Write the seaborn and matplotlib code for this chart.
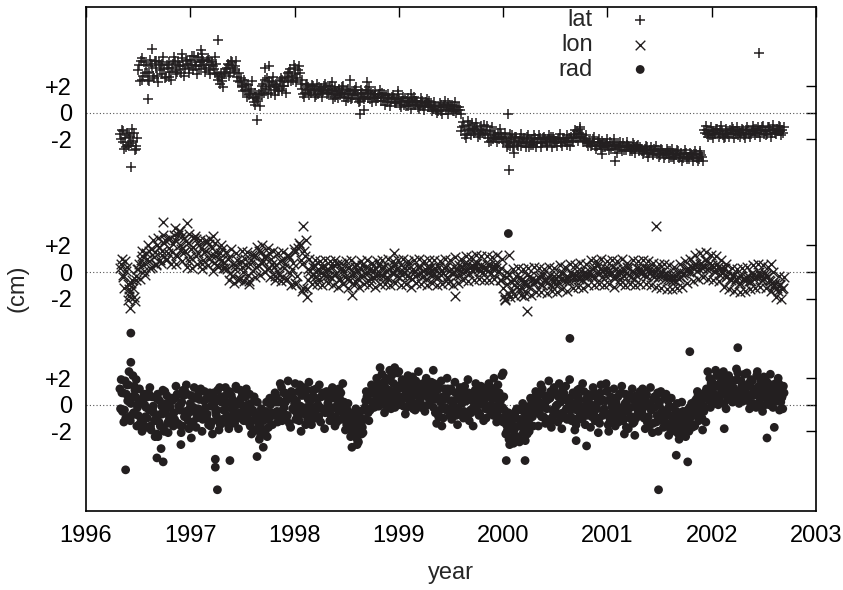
import numpy as np
import pandas as pd
import matplotlib
matplotlib.use("Agg")
import matplotlib.pyplot as plt
import seaborn as sns

sns.set_theme(style="white")
plt.rcParams['font.family'] = ['Liberation Sans', 'DejaVu Sans']

# sampling grid (decimal years): each extra list of a series sits a fraction of a step later
t_start = 1996.325
t_step = 0.025

# vertical offsets of the three stacked series (cm)
offsets = {'lat': 22, 'lon': 10, 'rad': 0}

years = [1996, 1997, 1998, 1999, 2000, 2001, 2002, 2003]
ytick_rel = [-2, 0, 2]
ytick_labels = ['-2', '0', '+2']

# ---- lat (cm) ----
lat_a = [
    -1.6, -2.2, -1.9, -2.4, -1.8, -2.1, -2.5, 3.2, 3.9, 2.8, 3.6, 3.1, 3.7, 2.6, 3.4, 3.8, 2.9, 3.3, 3.6, 2.7,
    3.4, 3.9, 3.1, 3.6, 4.1, 3.3, 3.7, 4.0, 3.2, 3.8, 4.2, 3.5, 3.9, 3.4, 4.0, 3.6, 3.3, 3.7, 2.8, 2.4,
    2.9, 3.4, 3.6, 3.8, 3.2, 2.7, 2.3, 2.0, 1.7, 2.1, 1.4, 1.1, 0.6, 0.9, 1.6, 2.2, 1.8, 2.4, 1.5, 2.1,
    2.2, 1.8, 2.5, 2.0, 2.7, 3.1, 2.8, 3.4, 2.6, 3.0, 1.8, 1.5, 1.9, 1.6, 2.0, 1.7, 1.4, 1.8, 1.6, 1.9,
    1.7, 1.4, 1.6, 1.3, 1.8, 1.5, 1.2, 1.6, 1.4, 1.1, 1.7, 1.3, 0.9, 1.5, 1.2, 1.6, 1.0, 1.4, 1.3, 1.1,
    1.2, 0.9, 1.3, 1.0, 0.8, 1.1, 0.7, 1.0, 0.8, 0.6, 0.9, 0.7, 1.0, 0.6, 0.8, 0.5, 0.9, 0.6, 0.7, 0.4,
    0.3, 0.5, 0.1, 0.6, 0.4, 0.2, 0.7, 0.3, 0.5, 0.0, 0.4, -1.4, -1.0, -1.6, -1.2, -0.8, -1.5, -1.1, -1.7, -1.3,
    -1.6, -1.9, -1.4, -2.0, -1.7, -1.5, -1.8, -2.2, -1.9, -2.4, -2.0, -2.3, -1.8, -2.1, -2.5, -1.9, -2.2, -2.6, -2.0, -2.3,
    -2.2, -1.9, -2.3, -2.0, -2.4, -2.1, -1.8, -2.2, -2.0, -2.3, -1.9, -2.1, -2.2, -1.8, -1.6, -1.9, -1.5, -1.8, -2.0, -2.2,
    -2.1, -2.4, -2.2, -2.5, -2.3, -2.1, -2.6, -2.4, -2.2, -2.5, -2.7, -2.4, -2.6, -2.3, -2.8, -2.5, -2.7, -2.4, -2.6, -2.9,
    -2.7, -2.9, -2.6, -3.0, -2.8, -2.7, -3.1, -2.9, -2.8, -3.2, -3.0, -2.9, -3.3, -3.1, -2.9, -3.2, -3.4, -3.0, -3.3, -3.1,
    -3.3, -3.1, -3.5, -3.2, -1.3, -1.6, -1.4, -1.7, -1.5, -1.2, -1.6, -1.4, -1.8, -1.5, -1.3, -1.6, -1.4, -1.7, -1.5, -1.3,
    -1.5, -1.3, -1.6, -1.4, -1.2, -1.5, -1.3, -1.6, -1.4, -1.1, -1.5, -1.3, -1.2, -1.4, -1.3,
]
lat_b = [
    -2.0, -1.4, -2.6, -1.7, -2.3, -1.5, -2.7, 3.6, 2.5, 3.8, 3.0, 2.4, 3.5, 3.9, 2.8, 3.2, 3.7, 2.6, 3.4, 3.1,
    3.7, 3.2, 3.8, 3.0, 3.5, 4.0, 3.4, 3.6, 4.3, 3.5, 3.3, 4.0, 3.6, 3.9, 3.2, 3.8, 3.0, 2.9, 2.2, 2.6,
    3.1, 3.7, 3.0, 3.4, 3.5, 2.4, 2.6, 1.6, 2.2, 1.3, 1.8, 0.8, 1.2, 1.4, 2.0, 1.5, 2.6, 1.9, 2.3, 1.7,
    1.9, 2.4, 1.6, 2.6, 2.3, 3.3, 2.5, 2.9, 3.2, 2.2, 1.4, 2.1, 1.7, 1.5, 1.8, 1.3, 1.9, 1.5, 2.0, 1.4,
    1.5, 1.8, 1.2, 1.6, 1.3, 1.9, 1.4, 1.1, 1.7, 1.3, 1.5, 1.0, 1.4, 1.2, 1.7, 1.1, 1.5, 1.2, 0.9, 1.4,
    0.9, 1.3, 0.8, 1.1, 1.2, 0.7, 1.0, 0.6, 0.9, 1.1, 0.5, 0.8, 0.6, 0.9, 0.4, 0.7, 0.5, 0.8, 0.4, 0.6,
    0.5, 0.2, 0.4, 0.1, 0.6, 0.4, 0.3, 0.6, 0.1, 0.4, 0.2, -1.1, -1.7, -1.3, -0.9, -1.4, -1.2, -1.8, -1.0, -1.5,
    -1.3, -1.7, -2.1, -1.5, -1.9, -2.0, -1.6, -1.8, -2.3, -2.1, -1.7, -2.2, -2.4, -1.9, -2.0, -2.3, -1.8, -2.1, -2.4, -1.9,
    -2.0, -2.3, -1.9, -2.2, -2.0, -1.8, -2.3, -2.1, -1.9, -2.2, -2.0, -2.4, -1.9, -2.1, -1.7, -1.4, -1.8, -1.6, -2.1, -2.3,
    -2.3, -2.0, -2.5, -2.2, -2.4, -2.6, -2.3, -2.5, -2.7, -2.3, -2.4, -2.6, -2.5, -2.8, -2.4, -2.6, -2.9, -2.7, -2.5, -2.7,
    -2.9, -2.7, -3.0, -2.8, -3.1, -2.9, -2.8, -3.2, -3.0, -3.1, -2.9, -3.3, -3.0, -3.2, -3.4, -3.0, -3.1, -3.3, -3.5, -3.2,
    -3.1, -3.4, -3.0, -3.3, -1.5, -1.3, -1.7, -1.4, -1.6, -1.5, -1.3, -1.7, -1.4, -1.6, -1.5, -1.2, -1.6, -1.4, -1.5, -1.7,
    -1.3, -1.6, -1.4, -1.2, -1.5, -1.3, -1.1, -1.4, -1.6, -1.3, -1.2, -1.5, -1.4, -1.1, -1.5,
]
lat_c = [
    -1.3, -2.7, -1.5, -2.5, -1.2, -2.8, -1.9, 2.4, 4.1, 3.0, 2.5, 4.0, 2.8, 3.9, 2.3, 3.6, 4.2, 2.7, 3.8, 2.5,
    4.2, 2.9, 3.5, 4.4, 2.8, 3.9, 3.0, 4.3, 3.6, 2.9, 3.8, 4.4, 3.1, 4.1, 2.9, 3.5, 4.2, 2.5, 3.0, 1.9,
    3.3, 2.8, 3.9, 3.1, 3.9, 3.0, 1.9, 2.5, 1.2, 1.6, 2.4, 1.5, 1.0, 0.5, 1.3, 2.5, 1.4, 2.0, 2.7, 1.3,
    1.6, 2.6, 2.0, 1.5, 3.0, 2.4, 3.6, 2.3, 3.5, 2.5, 1.2, 2.2, 1.3, 2.1, 1.2, 2.2, 1.6, 1.2, 2.2, 1.5,
    2.0, 1.0, 1.9, 1.1, 1.5, 2.0, 0.9, 1.8, 1.0, 1.6, 1.9, 0.8, 1.7, 1.0, 1.5, 1.9, 0.8, 1.6, 1.1, 1.7,
    1.5, 0.6, 1.4, 0.5, 1.3, 0.8, 1.4, 0.4, 1.2, 0.5, 1.1, 0.3, 1.2, 0.9, 0.3, 1.1, 0.2, 1.0, 0.9, 0.1,
    0.8, 0.0, 0.7, -0.1, 0.9, -0.1, 0.6, 0.1, 0.8, 0.2, -0.1, -0.7, -1.9, -0.6, -1.7, -1.2, -0.8, -1.6, -1.4, -0.9,
    -1.0, -2.2, -1.1, -1.8, -2.2, -1.2, -2.0, -1.5, -2.6, -1.6, -2.6, -1.8, -2.5, -1.6, -2.3, -2.6, -1.7, -2.4, -1.7, -2.6,
    -1.7, -2.6, -1.8, -2.5, -1.7, -2.6, -2.0, -2.5, -1.6, -2.5, -2.2, -1.7, -2.5, -2.2, -1.3, -2.1, -1.2, -2.2, -1.7, -2.5,
    -2.5, -1.8, -2.7, -2.0, -2.7, -2.3, -2.0, -2.8, -2.4, -2.0, -3.0, -2.2, -2.9, -2.6, -2.2, -2.9, -2.3, -3.0, -2.4, -2.6,
    -3.1, -2.5, -3.3, -2.6, -3.2, -2.5, -3.3, -2.7, -3.4, -2.7, -3.4, -2.7, -3.5, -2.8, -3.3, -3.6, -2.8, -3.5, -3.0, -3.6,
    -2.9, -3.6, -2.9, -3.6, -1.0, -1.8, -1.1, -1.9, -1.2, -1.8, -1.0, -1.9, -1.2, -1.8, -1.1, -1.9, -1.1, -1.8, -1.2, -1.9,
    -1.1, -1.8, -1.0, -1.7, -1.1, -1.8, -1.0, -1.7, -1.1, -1.8, -0.9, -1.6, -1.0, -1.7, -1.1,
]
lat_out_t = [1996.43, 1996.59, 1996.63, 1997.10, 1997.27, 1997.64, 1997.72, 1997.75, 1998.36, 1998.53,
             1998.63, 1998.67, 1998.69, 1998.99, 1999.12, 2000.05, 2000.06, 2000.07, 2000.10, 2000.74,
             2000.95, 2001.07, 2002.45]
lat_out_v = [-4.1, 1.0, 4.8, 4.7, 5.5, -0.55, 3.4, 3.5, 2.3, 2.5,
             -0.1, 0.2, 2.3, 1.6, 1.4, -0.1, -4.3, -2.5, -3.0, -1.1,
             -3.1, -3.6, 4.5]

# ---- lon (cm) ----
lon_a = [
    0.3, -0.4, 0.8, -0.9, -1.5, -1.2, -0.6, 0.2, 0.9, 0.5, 1.4, 0.8, 1.7, 1.1, 0.6, 1.9, 1.3, 2.2, 1.0, 1.8,
    1.5, 2.4, 1.2, 2.0, 2.7, 1.6, 2.2, 1.1, 1.9, 2.5, 1.4, 1.8, 0.9, 1.6, 2.1, 1.3, 0.7, 1.5, 1.0, 1.7,
    0.7, 0.2, 1.1, -0.3, 0.5, 0.9, -0.5, 0.4, 1.0, -0.2, 0.6, 0.1, 1.3, 0.5, 1.5, 0.8, 1.2, 0.3, 1.0, 0.4,
    0.5, -0.2, 0.9, 0.3, -0.5, 1.1, 0.2, 1.5, -0.3, 2.0, 0.6, 1.2, -0.6, 0.1, 0.4, -0.4, 0.2, -0.1, 0.3, -0.3,
    0.2, -0.4, 0.5, -0.1, -0.6, 0.3, 0.0, -0.5, 0.4, -0.2, -0.7, 0.1, -0.3, 0.5, -0.1, -0.6, 0.2, -0.4, 0.3, -0.2,
    0.3, -0.3, 0.1, -0.5, 0.4, -0.1, 0.2, -0.4, 0.5, 0.0, -0.3, 0.3, -0.5, 0.1, -0.2, 0.4, -0.4, 0.2, -0.1, 0.3,
    -0.2, 0.3, -0.4, 0.1, -0.1, 0.4, -0.5, 0.2, 0.0, -0.3, 0.5, 0.1, 0.6, 0.2, -0.1, 0.5, 0.3, 0.7, 0.1, 0.4,
    0.4, 0.1, 0.5, 0.2, 0.6, 0.0, 0.3, -1.2, -0.4, -1.6, -0.7, -1.0, -0.3, -1.3, -0.6, -0.9, -0.2, -1.1, -0.5, -0.8,
    -0.7, -0.3, -1.0, -0.5, -0.8, -0.2, -0.6, -0.9, -0.3, -0.5, -0.1, -0.7, -0.4, 0.0, -0.6, -0.2, -0.5, 0.1, -0.3, -0.4,
    0.1, -0.3, 0.4, -0.1, 0.2, -0.4, 0.3, 0.0, -0.2, 0.4, -0.3, 0.1, -0.5, 0.2, -0.1, 0.3, -0.4, 0.0, -0.2, 0.2,
    0.2, -0.2, 0.3, -0.1, 0.1, -0.4, 0.2, -0.3, 0.0, -0.5, -0.2, -0.6, -0.3, -0.7, -0.1, -0.4, -0.2, 0.1, 0.3, 0.0,
    0.3, 0.6, 0.2, 0.7, 0.4, 0.8, 0.3, 0.5, 0.1, 0.6, 0.2, -0.1, 0.3, -0.3, -0.5, -0.2, -0.7, -0.4, -0.8, -0.5,
    -0.6, -0.3, -0.7, -0.2, -0.4, 0.0, -0.3, -0.5, -0.2, -0.6, -0.8, -1.0, -1.2, -0.9, -1.3,
]
lon_b = [
    0.6, -0.2, 0.1, -1.3, -0.8, -1.9, -0.3, 0.6, 1.2, 0.1, 1.0, 1.6, 0.4, 1.5, 2.0, 0.9, 1.6, 2.4, 1.4, 2.6,
    2.1, 1.3, 2.8, 1.7, 1.4, 2.3, 0.8, 1.7, 2.6, 1.2, 2.0, 0.6, 1.5, 2.3, 1.0, 1.8, 1.2, 0.5, 1.4, 0.9,
    0.3, 1.0, -0.1, 0.6, 0.2, -0.6, 0.8, 0.0, 0.5, -0.7, 0.9, 1.2, 0.4, 1.6, 0.7, 1.1, 0.2, 1.4, 0.6, -0.3,
    0.1, 0.8, -0.4, 0.6, 1.3, -0.1, 0.7, -0.8, 1.8, 0.9, -1.2, 2.4, 0.2, -0.3, 0.5, 0.0, -0.5, 0.4, -0.2, 0.2,
    -0.3, 0.4, -0.2, 0.6, -0.5, 0.1, -0.4, 0.3, -0.6, 0.0, 0.4, -0.5, 0.2, -0.3, 0.4, -0.1, -0.5, 0.1, -0.3, 0.5,
    -0.2, 0.4, -0.4, 0.2, -0.1, 0.5, -0.3, 0.1, -0.2, 0.3, 0.6, -0.4, 0.2, -0.3, 0.4, -0.1, 0.1, -0.5, 0.3, -0.2,
    0.2, -0.3, 0.4, -0.2, 0.3, -0.4, 0.1, -0.1, 0.4, 0.2, -0.2, 0.4, 0.0, 0.6, 0.3, 0.1, 0.6, 0.2, 0.5, 0.0,
    0.2, 0.5, -0.1, 0.4, 0.3, 0.1, -0.6, -1.8, -0.9, -0.2, -1.4, -0.6, -1.1, -0.4, -1.2, -0.7, -1.0, -0.3, -0.9, -0.6,
    -0.4, -0.9, -0.2, -0.7, -0.4, -1.0, -0.3, -0.5, -0.8, -0.1, -0.6, -0.3, -0.7, -0.2, -0.4, 0.1, -0.3, -0.6, 0.0, -0.2,
    -0.2, 0.2, -0.4, 0.5, -0.1, 0.1, -0.3, 0.3, 0.0, -0.4, 0.2, -0.2, 0.1, -0.3, 0.4, -0.2, 0.1, -0.5, 0.3, -0.1,
    -0.1, 0.3, -0.3, 0.2, -0.2, 0.1, -0.4, 0.0, -0.3, -0.1, -0.5, -0.2, -0.6, -0.3, -0.5, 0.0, -0.1, 0.2, 0.0, 0.4,
    0.5, 0.1, 0.6, 0.3, 0.9, 0.2, 0.7, 0.4, 0.0, 0.4, -0.2, 0.2, -0.4, 0.0, -0.6, -0.3, -0.5, -0.9, -0.3, -0.6,
    -0.4, -0.7, -0.1, -0.5, -0.3, -0.2, -0.6, -0.1, -0.4, -0.7, -1.1, -0.8, -1.4, -1.0, -1.2,
]
lon_c = [
    1.0, -1.2, 0.4, -1.8, -0.6, -2.2, 0.2, -0.5, 1.6, -0.2, 2.0, 0.3, 2.4, 0.5, 2.6, 0.7, 2.8, 0.9, 2.5, 0.6,
    2.8, 0.6, 3.1, 0.8, 2.6, 0.4, 2.9, 0.3, 2.7, 0.6, 2.4, 0.2, 2.3, 0.5, 2.5, 0.1, 2.2, 0.4, 2.0, 0.3,
    1.5, -0.6, 1.7, -0.8, 1.4, -0.5, 1.6, -0.7, 1.5, -0.9, 1.3, -0.4, 1.9, -0.2, 2.0, 0.0, 1.8, -0.4, 1.6, -0.6,
    1.4, -0.7, 1.5, -0.6, 1.2, -1.0, 1.7, -0.9, 2.2, -1.4, 1.6, -1.3, 1.0, -0.9, 0.9, -0.9, 0.8, -1.0, 0.9, -0.8,
    0.8, -1.0, 0.9, -1.1, 0.7, -0.9, 0.8, -1.2, 0.9, -1.0, 0.6, -1.1, 0.8, -0.9, 0.9, -1.0, 0.7, -1.1, 0.8, -0.9,
    0.9, -0.9, 1.0, -1.0, 0.8, -0.8, 0.9, -1.0, 1.0, -0.9, 0.8, -1.1, 0.9, -0.8, 1.0, -0.9, 0.8, -1.0, 0.9, -0.8,
    0.9, -1.0, 0.8, -0.9, 1.0, -0.8, 0.9, -1.0, 1.1, -0.8, 1.0, -0.6, 1.2, -0.7, 1.1, -0.6, 1.3, -0.5, 1.2, -0.6,
    1.2, -0.6, 1.1, -0.5, 1.3, -0.6, 1.0, -2.0, 0.0, -1.9, 0.2, -1.8, 0.3, -1.7, 0.2, -1.6, 0.3, -1.7, 0.4, -1.5,
    0.3, -1.5, 0.2, -1.6, 0.4, -1.4, 0.3, -1.5, 0.5, -1.3, 0.4, -1.4, 0.6, -1.2, 0.5, -1.1, 0.7, -1.2, 0.6, -1.0,
    0.9, -1.0, 0.8, -0.9, 1.0, -1.0, 0.8, -0.9, 0.9, -1.1, 0.8, -0.9, 1.0, -1.0, 0.7, -0.9, 0.9, -1.0, 0.8, -0.9,
    0.9, -0.9, 0.8, -1.0, 0.7, -1.1, 0.6, -1.2, 0.6, -1.3, 0.5, -1.3, 0.4, -1.2, 0.6, -1.1, 0.8, -0.8, 1.0, -0.7,
    1.3, -0.5, 1.4, -0.4, 1.5, -0.5, 1.3, -0.6, 1.2, -0.7, 0.9, -1.1, 0.6, -1.3, 0.3, -1.4, 0.2, -1.5, 0.3, -1.4,
    0.4, -1.3, 0.5, -1.2, 0.6, -1.1, 0.5, -1.2, 0.4, -1.4, 0.0, -1.9, -0.3, -2.0, -0.4,
]
lon_out_t = [1996.40, 1996.42, 1996.74, 1996.85, 1996.90, 1996.97, 1997.22, 1998.08, 1998.12, 1998.55,
             1998.95, 1999.54, 2000.02, 2000.06, 2000.20, 2000.23, 2001.47, 2002.57]
lon_out_v = [-2.1, -2.7, 3.8, 3.3, 3.1, 3.7, 2.7, 3.5, -1.9, -1.7,
             1.4, -1.8, -2.1, 1.3, -1.8, -2.9, 3.5, 0.6]

# ---- rad (cm) ----
rad_a = [
    1.2, -0.5, 1.8, 0.3, -1.2, 2.2, 0.6, -0.8, 0.4, -1.5, -0.2, 0.9, -1.9, -0.6, 0.5, -1.3, -0.1, -2.0, 0.7, -0.9,
    0.3, -1.1, 0.8, -0.4, -1.6, 1.0, -0.7, 0.1, -1.3, 0.6, -0.3, 1.2, -0.9, 0.4, -1.5, -0.1, 0.9, -0.8, -1.9, 0.2,
    0.5, -0.8, 1.0, -0.3, -1.4, 0.2, -0.6, 0.8, -1.1, 0.0, -1.6, -0.4, -1.9, -0.9, -2.3, -1.2, -0.5, -1.7, 0.3, -0.7,
    0.6, -0.9, 1.3, -0.2, 0.4, -1.4, 0.9, 0.1, -0.7, 1.5, -0.4, 0.7, -1.1, 0.3, 1.1, -0.6, 0.0, -1.3, 0.8, -0.3,
    0.4, -0.8, 0.9, -0.3, 1.2, -1.1, 0.2, -1.5, -0.6, -2.0, -1.2, -2.6, -0.9, -1.7, -0.2, 0.5, -0.4, 1.1, 0.3, 1.6,
    1.4, 0.2, 2.0, 0.7, -0.3, 1.6, 0.9, 2.5, 0.4, 1.2, -0.2, 1.8, 0.6, 1.0, 0.1, 1.5, 0.8, -0.5, 1.1, 0.3,
    0.9, -0.6, 1.5, 0.2, -1.0, 0.7, -0.3, 1.2, 0.0, -0.8, 0.5, 1.0, -0.5, 0.3, -1.2, 0.8, -0.1, 0.6, -0.7, 1.3,
    0.4, 1.1, -0.5, 0.8, -0.2, 1.5, 0.3, -1.3, -2.2, -0.6, -1.8, -2.9, -1.0, -2.5, -0.4, -1.6, -0.8, -2.0, 0.2, -0.5,
    0.6, -0.7, 1.2, 0.1, -1.1, 0.5, -0.4, 0.9, -1.3, 0.2, -0.6, 1.4, -0.2, -0.9, 0.7, -1.5, 0.3, -0.5, 1.0, -0.8,
    0.5, -0.9, 0.9, -0.3, -1.4, 0.4, -0.7, 1.1, -1.1, 0.0, -1.6, 0.6, -0.5, -1.2, 0.8, -1.8, -0.2, 0.4, -1.0, 0.1,
    0.4, -1.0, 0.8, -1.6, -0.3, 0.6, -0.8, 0.2, -1.2, 0.5, -0.6, -1.5, -0.2, -2.0, -1.0, -1.8, -0.5, -2.4, -1.3, -0.7,
    -0.8, 0.4, -1.2, 0.1, -0.5, 1.2, 0.3, 1.8, 0.8, 2.2, 0.5, 1.4, 2.0, 0.9, 1.6, 0.2, 1.1, 2.4, 0.7, 1.5,
    1.2, 0.3, 1.9, 0.7, -0.2, 1.4, 0.5, 2.1, 0.9, 0.0, 1.5, 0.4, 1.1, -0.4, 0.6,
]
rad_b = [
    -0.3, 0.9, -1.0, 1.5, 0.1, -0.6, 1.9, 0.2, -1.1, 0.8, -1.7, -0.4, 0.6, -1.2, -2.2, 0.3, -0.7, 1.0, -1.4, -0.2,
    -0.8, 0.5, -1.4, 0.0, 1.1, -0.5, -1.2, 0.7, -0.2, -1.7, 0.9, -0.6, 0.3, -1.0, 0.6, -1.3, 0.1, -0.4, 1.3, -1.1,
    -0.4, 0.9, -1.2, 0.4, -0.1, -0.9, 1.1, -0.5, 0.6, -1.3, 0.1, -2.0, -0.7, -1.5, -0.3, -2.1, 0.2, -1.0, -0.6, 0.5,
    -0.5, 0.3, -1.2, 0.9, -0.8, 0.5, -0.3, 1.6, -1.0, -0.1, 0.8, -1.5, 0.4, -0.7, -0.2, 1.2, -0.9, 0.6, -0.4, 1.0,
    -0.6, 0.7, -0.2, -1.3, 0.5, 0.0, -1.0, -0.4, -1.8, -0.8, -2.3, -1.4, -0.5, -2.1, 0.3, -0.6, 0.9, 0.2, 1.3, 0.6,
    0.6, 1.7, -0.1, 1.1, 2.2, 0.3, 1.4, 0.0, 1.9, 0.5, 1.3, 0.2, 2.1, -0.4, 0.9, 0.4, 1.6, 0.7, 0.0, 1.2,
    -0.2, 0.6, -0.9, 1.8, 0.4, -0.4, 1.0, -1.1, 0.3, 0.9, -0.6, 0.1, 1.4, -0.9, 0.5, -0.3, 1.1, -0.5, 0.2, 0.7,
    -0.3, 0.7, 1.3, -0.8, 0.5, 0.0, -1.0, 0.6, -1.5, -2.6, -0.9, -1.9, -0.3, -2.8, -1.2, -0.6, -2.2, -0.1, -0.9, 0.4,
    -0.5, 0.8, -0.2, -1.4, 0.4, 1.0, -0.8, -0.1, 0.6, -1.0, 0.9, -0.3, 0.5, -1.2, 0.1, -0.4, 1.2, -1.1, -0.2, 0.3,
    -0.4, 0.7, -1.2, 0.2, 0.9, -0.8, 0.3, -1.5, 0.6, -0.6, 0.2, -1.3, 0.9, -0.4, -1.7, 0.5, -0.9, -1.3, 0.7, -0.6,
    -0.6, 0.3, -1.3, 0.1, -2.1, -0.2, 0.9, -1.1, -0.4, -0.9, 0.3, -1.9, -0.8, -1.4, -2.2, -0.6, -1.6, -0.9, -2.0, 0.1,
    0.2, -0.6, 0.6, -1.0, 0.9, 0.5, 2.0, 1.0, 0.1, 1.5, 2.3, 0.8, 1.2, 0.4, 1.9, 1.3, 0.6, 1.0, 1.8, 0.3,
    0.5, 1.6, -0.1, 1.0, 2.2, 0.2, 1.3, 0.6, 1.7, 0.8, 0.1, 1.2, 0.3, 1.0, -0.3,
]
rad_c = [
    1.9, -1.3, 0.8, 2.5, -0.8, 1.4, -1.6, 1.2, -2.0, 0.0, -1.0, 1.3, -0.3, -2.4, 0.8, -1.6, 1.1, -0.5, -2.1, 0.4,
    -1.6, 1.4, -0.1, -2.1, 0.7, 1.5, -1.8, -0.5, 1.3, -1.0, 0.4, -2.0, 1.0, -0.7, 0.9, -2.2, 0.5, 1.1, -1.5, 0.6,
    1.3, -1.5, 0.2, -0.9, 1.4, -1.8, 0.5, -1.2, 1.2, -0.6, -2.2, 0.6, -1.0, -2.6, -1.8, -0.8, -2.4, 0.5, -1.5, 0.9,
    -1.3, 1.6, -0.6, 0.2, 1.8, -1.7, 0.5, -1.1, 1.0, -2.0, 1.3, -0.2, 1.7, -1.5, 0.6, -1.0, 1.5, -0.3, -1.8, 0.7,
    -1.2, 1.3, -1.6, 0.8, -0.5, 1.6, -1.9, 0.1, -2.4, -1.0, -0.3, -2.8, -1.5, -0.4, 1.0, -1.2, 1.5, -0.2, 2.0, -0.1,
    2.3, -0.6, 1.0, 2.6, 0.1, -0.2, 2.4, 0.6, 1.6, -0.7, 2.2, 0.9, -0.3, 1.8, 2.5, -0.2, 1.3, 2.0, 0.5, 1.7,
    1.6, -1.4, 0.4, -1.6, 1.2, 2.0, -0.8, 0.3, 1.7, -1.5, 1.3, -0.7, 0.8, 1.9, -0.4, -1.6, 1.6, 0.0, 1.4, -1.2,
    -1.0, 1.6, 0.0, 2.0, -1.3, 0.9, 2.2, -0.4, -2.0, -3.0, -1.5, -0.8, -2.4, -1.6, 0.1, -2.7, -1.4, 0.5, -1.6, 1.0,
    -1.6, 1.5, -0.9, 0.3, 1.8, -1.7, 1.3, -0.6, 1.6, -1.8, 0.4, -1.1, 1.9, 0.0, -1.9, 1.1, -0.8, 1.6, -1.5, 0.8,
    -1.7, 1.3, -0.2, -2.1, 1.5, -0.5, 1.6, -2.0, 0.2, 1.2, -1.3, -0.2, 1.4, -2.2, 0.3, -1.0, 1.2, -2.3, -0.3, 1.0,
    1.2, -1.8, -0.1, 1.3, -1.4, 0.6, -2.0, 1.0, -1.7, 0.8, -2.3, 0.5, -1.2, -0.5, -2.6, 0.2, -2.2, -1.2, -0.2, -1.7,
    -1.6, 1.0, -0.2, -1.9, 0.6, 2.5, -0.2, 1.3, 2.6, 0.0, 1.7, 2.5, -0.3, 2.2, 0.6, 1.8, 2.7, 0.1, 1.4, 2.3,
    2.4, -0.3, 1.8, 0.0, 2.5, 1.1, -0.5, 1.9, 0.3, 2.3, -0.2, 1.6, 2.0, 0.2, 1.4,
]
rad_d = [
    0.9, -0.4, 1.5, -0.9, 0.6, 1.1, -0.2, -1.4, 0.3, -0.9, 0.6, -1.6, -0.1, -1.1, 0.4, -0.7, -1.8, 0.1, -1.2, 0.5,
    -0.6, 0.7, -1.5, 0.2, -0.9, 0.8, -0.3, -1.4, 0.5, -0.8, 1.0, -1.1, -0.2, 0.7, -1.6, 0.3, -0.5, -1.2, 0.6, -0.4,
    0.1, -1.1, 0.7, -0.6, 1.2, -1.0, 0.0, -0.3, -0.9, 0.8, -1.2, -0.7, 0.2, -1.4, -0.5, -2.0, -1.1, 0.0, -0.8, 0.2,
    0.2, -0.5, 0.9, -1.0, 0.5, 1.0, -0.4, 0.3, -1.2, 0.7, -0.7, 1.1, -0.3, 0.6, -1.0, 0.4, -0.2, 0.9, -0.6, 0.1,
    -0.2, 0.5, -0.9, 0.1, 0.9, -0.6, -0.3, -1.0, -1.4, -1.9, -0.7, -1.8, -2.2, -1.1, 0.6, -0.3, 0.2, 0.8, -0.1, 0.9,
    0.8, 1.3, 0.4, 1.8, 1.0, 0.5, 1.2, 1.5, -0.1, 0.9, 1.6, 0.3, 1.4, 0.7, 1.2, 0.0, 1.0, 1.4, 0.6, 0.9,
    0.4, 1.1, -0.4, 0.6, -0.2, 1.2, 0.3, -0.6, 0.9, -0.3, 0.7, -1.0, 0.4, 0.9, -0.6, 0.2, 0.6, -0.8, 1.0, 0.0,
    0.8, -0.4, 0.5, 1.0, -0.6, 0.6, -0.2, -0.9, -1.7, -1.2, -2.4, -0.5, -1.6, -1.1, -2.1, -0.3, -1.3, -0.6, 0.5, -0.2,
    0.2, -0.9, 0.7, -0.3, 0.5, -1.2, 0.8, 0.0, -0.7, 1.1, -0.9, 0.3, -0.4, 0.9, -1.1, 0.6, -0.1, -0.8, 0.4, -0.3,
    0.0, -0.6, 0.6, -1.0, 0.3, -0.3, 1.0, -0.7, -0.2, 0.5, -1.0, 0.8, -0.9, 0.1, -0.5, 0.7, -1.4, 0.2, -0.6, 0.5,
    -0.2, 0.6, -0.9, -0.4, 0.4, -1.3, 0.0, -0.6, 0.7, -1.4, -0.1, -0.9, -1.6, 0.1, -1.3, -0.8, -1.9, -0.4, -1.0, -1.5,
    -0.3, 0.7, -0.9, -0.1, -1.3, 0.9, 1.6, 0.4, 1.4, 0.7, 1.1, 0.1, 1.7, 1.2, 0.5, 1.0, 1.9, 0.6, 1.2, 0.8,
    0.8, 1.4, 0.1, 1.2, 0.7, 1.8, -0.1, 1.0, 1.4, 0.5, 1.1, 0.8, 1.6, 0.5, 0.9,
]
rad_out_t = [1996.38, 1996.43, 1996.43, 1996.68, 1996.69, 1996.72, 1996.74, 1996.91, 1997.01, 1997.24,
             1997.24, 1997.26, 1997.37, 1997.38, 1997.64, 1997.70, 1998.55, 1998.60, 1998.82, 1998.96,
             1999.33, 2000.00, 2000.03, 2000.05, 2000.21, 2000.64, 2000.70, 2000.80, 2001.49, 2001.66,
             2001.77, 2001.79, 2002.12, 2002.25, 2002.53, 2002.60]
rad_out_v = [-4.9, 5.4, 3.2, -4.0, -2.4, -3.3, -4.3, -3.0, -2.5, -4.1,
             -4.7, -6.4, -1.8, -4.2, -3.9, -3.2, -3.2, -3.0, 2.8, 2.8,
             2.6, 2.4, -4.2, 12.9, -4.2, 5.0, -2.7, -3.1, -6.4, -3.8,
             -4.3, 4.0, -1.8, 4.3, -2.5, -1.7]


def series_frame(lists, out_t, out_v, name):
    parts_t, parts_v = [], []
    for k, vals in enumerate(lists):
        parts_t.append(t_start + t_step * (np.arange(len(vals)) + k / len(lists)))
        parts_v.append(np.asarray(vals))
    year = np.concatenate(parts_t + [np.asarray(out_t)])
    val = np.concatenate(parts_v + [np.asarray(out_v)])
    return pd.DataFrame({'year': year, 'y': val + offsets[name]})


df_lat = series_frame([lat_a, lat_b, lat_c], lat_out_t, lat_out_v, 'lat')
df_lon = series_frame([lon_a, lon_b, lon_c], lon_out_t, lon_out_v, 'lon')
df_rad = series_frame([rad_a, rad_b, rad_c, rad_d], rad_out_t, rad_out_v, 'rad')

ink = '#231f20'

fig = plt.figure(figsize=(8.43, 5.90), dpi=100)
ax = fig.add_axes([86 / 843, 1 - 511 / 590, 730 / 843, 504.5 / 590])

# dotted zero line for each series
for off in offsets.values():
    ax.axhline(off, color='#555555', linestyle=(0, (1, 2)), linewidth=0.8, zorder=1)

sns.scatterplot(data=df_lat, x='year', y='y', marker='+', s=60, color=ink,
                linewidth=1.1, ax=ax, label='lat', zorder=3)
sns.scatterplot(data=df_lon, x='year', y='y', marker='x', s=48, color=ink,
                linewidth=1.0, ax=ax, label='lon', zorder=3)
sns.scatterplot(data=df_rad, x='year', y='y', marker='o', s=40, color=ink,
                edgecolor='none', ax=ax, label='rad', zorder=3)

ax.set_xlim(1996, 2003)
ax.set_ylim(-8, 30)
ax.set_xticks(years)
ax.set_xticklabels([str(y) for y in years])
ypos, ylab = [], []
for name in ['rad', 'lon', 'lat']:
    for r, l in zip(ytick_rel, ytick_labels):
        ypos.append(offsets[name] + r)
        ylab.append(l)
ax.set_yticks(ypos)
ax.set_yticklabels(ylab)

ax.tick_params(direction='in', length=7, width=1, top=True, right=True,
               labelsize=17, pad=10, colors='black')
for sp in ax.spines.values():
    sp.set_color('black')
    sp.set_linewidth(1.2)

ax.set_xlabel('year', fontsize=17)
ax.set_ylabel('(cm)', fontsize=17)
ax.xaxis.set_label_coords((451 - 86) / 730, (511 - 562) / 504.5)
ax.yaxis.set_label_coords((29 - 86) / 730, (511 - 288) / 504.5)

leg = ax.legend(loc='upper right', bbox_to_anchor=(652 / 843, 1 - 9 / 590),
                bbox_transform=fig.transFigure, frameon=False, markerfirst=False,
                fontsize=17, handlelength=1.0, handletextpad=1.5, labelspacing=0.12,
                borderpad=0, borderaxespad=0, scatterpoints=1)

fig.savefig('out.png', dpi=100)
